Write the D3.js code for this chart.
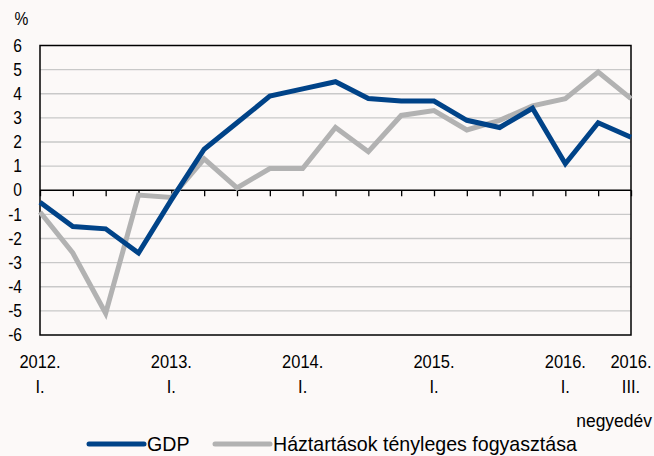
<!DOCTYPE html>
<html>
<head>
<meta charset="utf-8">
<script src="https://cdn.jsdelivr.net/npm/d3@7"></script>
<style>
  body { margin: 0; background: #fcf9f8; }
  svg { display: block; font-family: "Liberation Sans", Arial, sans-serif; }
</style>
</head>
<body>
<div id="chart"></div>
<script>
// quarters 2012 Q1 .. 2016 Q3
const quarters = ["2012 I","2012 II","2012 III","2012 IV","2013 I","2013 II","2013 III","2013 IV",
  "2014 I","2014 II","2014 III","2014 IV","2015 I","2015 II","2015 III","2015 IV","2016 I","2016 II","2016 III"];
const gdp = [-0.5,-1.5,-1.6,-2.6,-0.4,1.7,2.8,3.9,4.2,4.5,3.8,3.7,3.7,2.9,2.6,3.4,1.1,2.8,2.2];
const consumption = [-0.9,-2.6,-5.1,-0.2,-0.3,1.3,0.1,0.9,0.9,2.6,1.6,3.1,3.3,2.5,2.9,3.5,3.8,4.9,3.8];
const yTicks = [-6,-5,-4,-3,-2,-1,0,1,2,3,4,5,6];
// which quarters get a label: [index, year, quarter]
const xLabels = [[0,"2012.","I."],[4,"2013.","I."],[8,"2014.","I."],[12,"2015.","I."],[16,"2016.","I."],[18,"2016.","III."]];
const seriesNames = ["GDP","Háztartások tényleges fogyasztása"];

const width = 654, height = 456;
const margin = {top:45.5, right:23, bottom:121, left:40};
const narrow = 0.89; // reference font is condensed

const svg = d3.select("#chart").append("svg")
  .attr("width", width).attr("height", height);

const x = d3.scaleLinear().domain([0, quarters.length-1]).range([margin.left, width-margin.right]);
const y = d3.scaleLinear().domain([-6, 6]).range([height-margin.bottom, margin.top]);

// condensed text helper
function label(sel, tx, ty, size, anchor, sx) {
  return sel.append("text")
    .attr("transform", `translate(${tx},${ty}) scale(${sx || narrow},1)`)
    .attr("text-anchor", anchor)
    .style("font-size", size + "px");
}

// grid
svg.append("g").selectAll("line")
  .data(yTicks.filter(d => d !== 0 && Math.abs(d) !== 6))
  .enter().append("line")
  .attr("x1", x(0)).attr("x2", x(quarters.length-1))
  .attr("y1", d => y(d)).attr("y2", d => y(d))
  .attr("stroke", "#c9c9c9").attr("stroke-width", 1.3);

// y labels
yTicks.forEach(t => {
  label(svg, 22, y(t) + 6.2, 17.5, "end").text(t);
});

label(svg, 14.5, 25, 17.5, "start").text("%");

// zero axis with ticks
const zero = svg.append("g").attr("transform", `translate(0,${y(0)})`)
  .call(d3.axisBottom(x).tickValues(d3.range(quarters.length)).tickSize(6).tickFormat(""));
zero.select(".domain").remove();
zero.selectAll("line").attr("stroke", "#000").attr("stroke-width", 1.3);
svg.append("line").attr("x1", x(0)).attr("x2", x(quarters.length-1))
  .attr("y1", y(0)).attr("y2", y(0)).attr("stroke", "#000").attr("stroke-width", 1.5);

// frame
svg.append("rect")
  .attr("x", x(0)).attr("y", y(6))
  .attr("width", x(quarters.length-1)-x(0)).attr("height", y(-6)-y(6))
  .attr("fill", "none").attr("stroke", "#000").attr("stroke-width", 1.5);

const line = d3.line().x((d,i) => x(i)).y(d => y(d));

svg.append("path").datum(consumption)
  .attr("d", line).attr("fill", "none")
  .attr("stroke", "#b2b2b2").attr("stroke-width", 5).attr("stroke-linejoin", "miter");
svg.append("path").datum(gdp)
  .attr("d", line).attr("fill", "none")
  .attr("stroke", "#004388").attr("stroke-width", 5).attr("stroke-linejoin", "miter");

// x labels
xLabels.forEach(d => {
  label(svg, x(d[0]), 368, 18.5, "middle").text(d[1]);
  label(svg, x(d[0]), 393, 18.5, "middle").text(d[2]);
});

label(svg, 652, 427, 19, "end", 0.92).text("negyedév");

// legend
const legendItems = [
  {name: seriesNames[0], color: "#004388", x1: 89, x2: 144},
  {name: seriesNames[1], color: "#b2b2b2", x1: 215, x2: 270}
];
legendItems.forEach(d => {
  svg.append("line").attr("x1", d.x1).attr("x2", d.x2)
    .attr("y1", 444).attr("y2", 444)
    .attr("stroke", d.color).attr("stroke-width", 5).attr("stroke-linecap", "round");
  label(svg, d.x2 + 3, 451, 20, "start", 0.98).text(d.name);
});
</script>
</body>
</html>
